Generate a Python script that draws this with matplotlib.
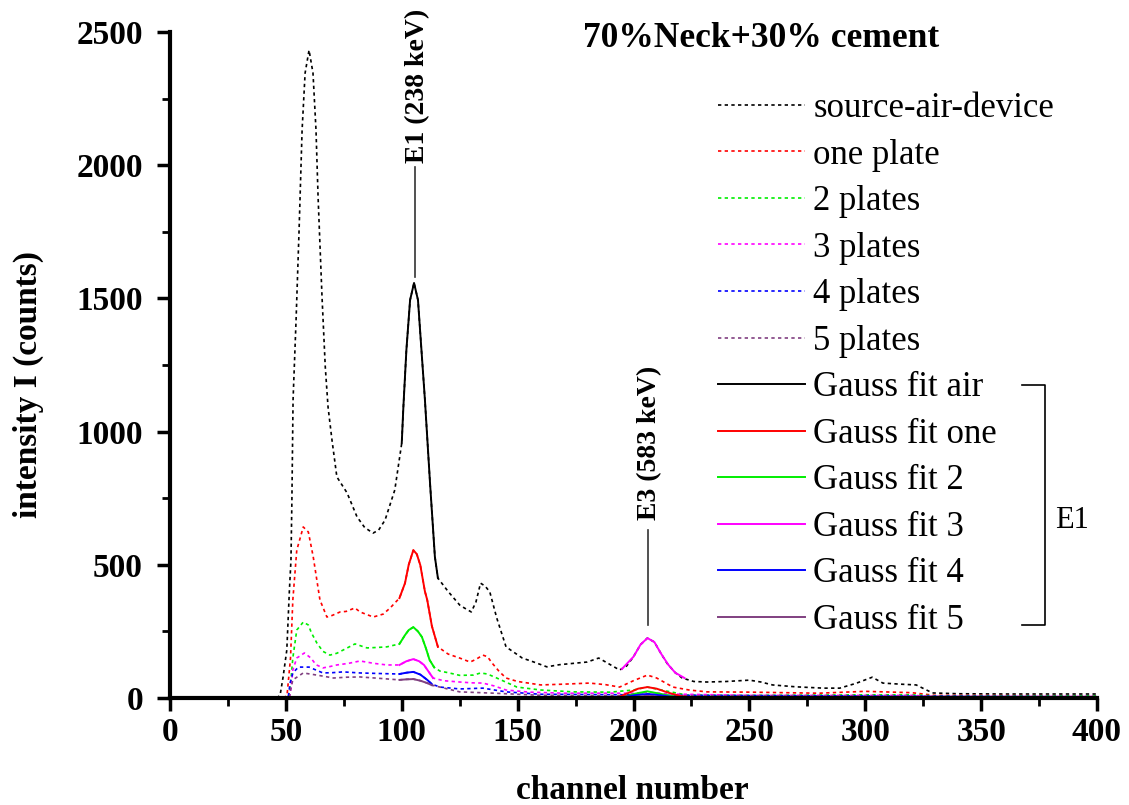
# -*- coding: utf-8 -*-

# gamma spectra through plates of 70% Neck + 30% cement, with Gauss fits

import numpy as np
import matplotlib
matplotlib.use('Agg')
import matplotlib.pyplot as plt
from matplotlib.ticker import MultipleLocator

plt.rcParams['font.family'] = ['Liberation Serif', 'DejaVu Serif']

# measured spectra (channel, counts)
air_ch = [0, 46, 47.5, 48.8, 50.4, 51.5, 52.2, 52.6, 53.1, 54.4, 55.7, 57, 58.3, 60, 61.7, 63, 63.9, 65.6,
          67, 68.2, 69.9, 72, 76.4, 80.7, 84, 87.6, 90, 92.8, 97, 100, 100.7, 102, 103.6, 105.3, 107, 110,
          112.2, 114.3, 115.6, 120, 125, 127, 130, 132, 134, 136, 138, 141, 145, 152, 157, 162.6, 168, 174,
          180, 185, 190, 194, 197, 200, 203, 206, 209, 212, 214.5, 218, 221, 226, 231.7, 240, 250, 255, 260,
          270, 282, 289, 296, 303, 307.6, 315, 322, 329, 340, 360, 380, 400]
air_val = [0, 0, 10, 79, 180, 400, 518, 743, 1119, 1419, 1757, 2132, 2346, 2432, 2346, 2132, 1880, 1505,
           1243, 1092, 968, 830, 770, 680, 640, 619, 630, 668, 781, 957, 1092, 1306, 1494, 1558, 1494, 1119,
           807, 530, 450, 400, 349, 338, 323, 360, 431, 420, 398, 300, 192, 150, 135, 117, 125, 130,
           135, 150, 125, 105, 120, 155, 200, 225, 210, 165, 130, 95, 75, 62, 60, 62, 67, 60, 49,
           42, 37, 37, 55, 78, 56, 52, 49, 19, 16, 15, 15, 15]

one_ch = [0, 49, 50.5, 52, 53, 54.7, 57.5, 59.7, 61.8, 64.7, 67.7, 70, 73.4, 76, 79.8, 82, 87.7, 92, 95, 99,
          101.4, 103, 105, 106.5, 108, 110, 111, 113, 115.6, 120, 125, 129.5, 132, 135, 137, 139, 142, 145,
          150, 160, 170, 181, 188, 194, 200, 206, 210, 217, 224, 231.7, 250, 280, 300, 320, 330, 400]
one_val = [0, 0, 10, 150, 368, 555, 642, 623, 530, 368, 304, 310, 323, 325, 338, 323, 304, 315, 338, 375,
           431, 500, 555, 540, 499, 400, 368, 270, 192, 165, 150, 135, 145, 161, 155, 131, 100, 75,
           62, 49, 52, 56, 50, 41, 65, 86, 75, 41, 30, 23, 22, 18, 25, 20, 10, 8]

two_ch = [0, 51, 52, 53, 54.7, 57.5, 59.7, 61, 63.4, 66, 69, 72, 74.7, 79.8, 85, 90, 93.6, 99, 101.4, 103,
          105, 107, 108.7, 110.5, 112, 114, 116.5, 120, 125, 131, 134, 137, 141, 149.7, 160, 174, 190, 200,
          206, 212, 223, 250, 300, 320, 330, 400]
two_val = [0, 0, 50, 150, 255, 285, 274, 245, 206, 175, 161, 168, 180, 203, 188, 190, 192, 203, 236, 255,
           266, 250, 229, 185, 143, 115, 101, 95, 85, 86, 94, 90, 75, 41, 30, 23, 22, 30,
           41, 30, 11, 10, 12, 12, 8, 8]

three_ch = [0, 51.5, 52.3, 53, 54.7, 58, 60.8, 63, 66, 69, 72, 77, 82, 88, 93.6, 99, 102, 105, 107.5, 109.6,
            111.5, 113.5, 118, 125, 130, 135, 140, 145, 155, 170, 200, 206, 215, 250, 320, 330, 400]
three_val = [0, 0, 40, 105, 150, 169, 150, 125, 113, 118, 124, 130, 139, 130, 124, 124, 138, 146, 138, 124,
             100, 75, 65, 60, 57, 56, 45, 30, 22, 18, 18, 22, 15, 10, 10, 6, 6]

four_ch = [0, 51, 51.8, 53, 55.4, 60, 63, 66, 70, 74.7, 82, 90, 99, 102, 105, 108, 111, 113, 116.5, 125, 135,
           140, 145, 160, 200, 206, 215, 400]
four_val = [0, 0, 56, 94, 116, 116, 105, 94, 95, 98, 94, 92, 90, 95, 98, 88, 68, 52, 41, 34, 37,
            30, 23, 14, 12, 15, 10, 5]

five_ch = [0, 51.5, 52, 53, 57.5, 63.4, 70.6, 76, 82, 90, 99, 102, 105, 108, 111, 113, 116.5, 125, 140, 160, 400]
five_val = [0, 0, 30, 68, 94, 86, 75, 78, 79, 74, 68, 70, 71, 65, 56, 48, 41, 23, 18, 10, 4]

# Gauss fits around E1 (238 keV)
fit_e1_ch = {
    'air': [100, 100.7, 102, 103.6, 105.3, 107, 110, 112.2, 114.3, 115.6],
    'one': [99, 101.4, 103, 105, 106.5, 108, 110, 111, 113, 115.6],
    '2': [99, 101.4, 103, 105, 107, 108.7, 110.5, 112, 114],
    '3': [99, 102, 105, 107.5, 109.6, 111.5, 113.5],
    '4': [99, 102, 105, 108, 111, 113],
    '5': [99, 102, 105, 108, 111, 113],
}
fit_e1_val = {
    'air': [957, 1092, 1306, 1494, 1558, 1494, 1119, 807, 530, 450],
    'one': [375, 431, 500, 555, 540, 499, 400, 368, 270, 192],
    '2': [203, 236, 255, 266, 250, 229, 185, 143, 115],
    '3': [124, 138, 146, 138, 124, 100, 75],
    '4': [90, 95, 98, 88, 68, 52],
    '5': [68, 70, 71, 65, 56, 48],
}

# Gauss fits around E3 (583 keV)
fit_e3_ch = {
    'one': [194, 198, 202, 206, 210, 215, 220, 224],
    '2': [196, 200, 206, 212, 218, 224],
    '3': [195, 200, 203, 206, 209, 212, 215, 218, 222],
    '4': [195, 200, 206, 212, 218],
    '5': [198, 206, 214],
}
fit_e3_val = {
    'one': [5, 20, 35, 41, 35, 20, 8, 3],
    '2': [3, 15, 25, 15, 4, 2],
    '3': [109, 155, 200, 225, 210, 165, 125, 95, 75],
    '4': [2, 10, 15, 10, 2],
    '5': [2, 8, 2],
}

series = [
    ('source-air-device', air_ch, air_val, 'black', 'air'),
    ('one plate', one_ch, one_val, '#ff0000', 'one'),
    ('2 plates', two_ch, two_val, '#00ee00', '2'),
    ('3 plates', three_ch, three_val, '#ff00ff', '3'),
    ('4 plates', four_ch, four_val, '#0000ff', '4'),
    ('5 plates', five_ch, five_val, '#804080', '5'),
]
fit_labels = ['Gauss fit air', 'Gauss fit one', 'Gauss fit 2', 'Gauss fit 3', 'Gauss fit 4', 'Gauss fit 5']

fig = plt.figure(figsize=(11.29, 8.05), dpi=100)
ax = fig.add_axes([170 / 1129, 1 - 698 / 805, 927 / 1129, 666 / 805])

dotted = []
for name, ch, val, col, key in series:
    ln, = ax.plot(ch, val, color=col, lw=1.2, ls=(0, (2, 2)), label=name)
    dotted.append(ln)

solid = []
for (name, ch, val, col, key), lab in zip(series, fit_labels):
    ln, = ax.plot(fit_e1_ch[key], fit_e1_val[key], color=col, lw=1.4, label=lab)
    solid.append(ln)
    if key in fit_e3_ch:
        ax.plot(fit_e3_ch[key], fit_e3_val[key], color=col, lw=1.4)

ax.set_xlim(0, 400)
ax.set_ylim(0, 2500)
ax.xaxis.set_major_locator(MultipleLocator(50))
ax.xaxis.set_minor_locator(MultipleLocator(25))
ax.yaxis.set_major_locator(MultipleLocator(500))
ax.yaxis.set_minor_locator(MultipleLocator(250))

for s in ['top', 'right']:
    ax.spines[s].set_visible(False)
for s in ['left', 'bottom']:
    ax.spines[s].set_linewidth(3)

ax.tick_params(axis='both', which='major', direction='out', length=9.5, width=2.5, labelsize=24)
ax.tick_params(axis='both', which='minor', direction='out', length=5.5, width=2)
ax.tick_params(axis='y', which='major', pad=10)
ax.tick_params(axis='x', which='major', pad=4)
for lab in ax.get_xticklabels() + ax.get_yticklabels():
    lab.set_fontweight('bold')

fig.text(632 / 1129, 1 - 790 / 805, 'channel number', ha='center', va='center', fontsize=24, fontweight='bold')
fig.text(28 / 1129, 1 - 385 / 805, 'intensity I (counts)', ha='center', va='center', rotation=90,
         fontsize=24, fontweight='bold')

ax.text(255, 2477, '70%Neck+30% cement', ha='center', va='center', fontsize=25.5, fontweight='bold')

# peak markers
ax.plot([105.7, 105.7], [1580, 1993], color='#333333', lw=1.2)
ax.text(107, 2008, 'E1 (238 keV)', rotation=90, ha='center', va='bottom', fontsize=20, fontweight='bold')
ax.plot([206.3, 206.3], [274, 631], color='#333333', lw=1.2)
ax.text(207.1, 668, 'E3 (583 keV)', rotation=90, ha='center', va='bottom', fontsize=20, fontweight='bold')

leg = ax.legend(handles=dotted + solid, loc='upper left', bbox_to_anchor=(718 / 1129, 1 - 92 / 805),
                bbox_transform=fig.transFigure, frameon=False, fontsize=25, borderpad=0, borderaxespad=0,
                handlelength=2.5, handletextpad=0.25, labelspacing=0.39)

# bracket grouping the E1 fits
ax.plot([367.6, 377.6, 377.6, 367.6], [1175, 1175, 274, 274], color='black', lw=1.2, clip_on=False)
ax.text(381.9, 668, 'E1', ha='left', va='center', fontsize=22)

fig.savefig('out.png', dpi=100)
